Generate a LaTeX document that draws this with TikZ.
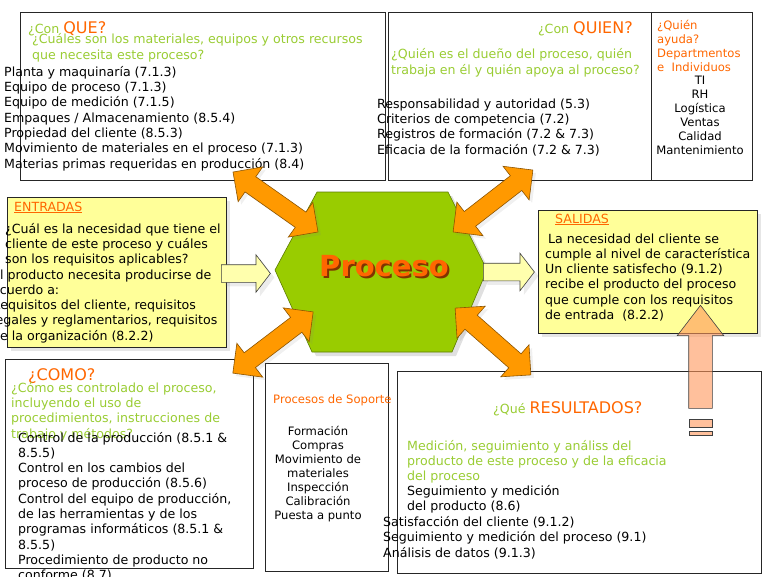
\documentclass[tikz,border=0pt]{standalone}
\usepackage{fontspec}
\setmainfont{DejaVu Sans}
\usetikzlibrary{shapes.arrows,shadows}

\definecolor{askgreen}{RGB}{153,204,51}
\definecolor{titleorange}{RGB}{255,102,0}
\definecolor{arrowfill}{RGB}{255,153,0}
\definecolor{hexgreen}{RGB}{153,204,0}
\definecolor{noteyellow}{RGB}{255,255,153}
\definecolor{peach}{RGB}{255,150,90}

\newcommand{\qtitle}[1]{{\fontsize{16}{18}\selectfont\color{titleorange}#1}}

\begin{document}
\begin{tikzpicture}[x=1pt, y=-1pt,
    box/.style={draw=black!85, line width=0.8pt, inner sep=0pt, anchor=north west},
    notebox/.style={box, fill=noteyellow, drop shadow={shadow xshift=4pt, shadow yshift=-4pt, opacity=0.2}},
    txt/.style={font=\fontsize{12.6}{15.3}\selectfont, align=left, anchor=base west, inner sep=0pt},
    ask/.style={txt, text=askgreen},
    small/.style={font=\fontsize{11.6}{14}\selectfont, align=center, anchor=base, inner sep=0pt},
    bigarrow/.style={double arrow, draw=arrowfill!55!black, fill=arrowfill, line width=0.6pt,
        inner xsep=0pt, inner ysep=9pt, double arrow head extend=12pt, double arrow tip angle=90,
        drop shadow={shadow xshift=3pt, shadow yshift=-3pt, opacity=0.12}},
    inarrow/.style={single arrow, draw=black!75, fill=noteyellow!80, line width=0.6pt,
        inner xsep=0pt, inner ysep=8.5pt, single arrow head extend=10pt, single arrow tip angle=105,
        drop shadow={shadow xshift=4pt, shadow yshift=-4pt, opacity=0.15}},
]
\useasboundingbox (0,0) rectangle (768,576);
\clip (0,0) rectangle (768,576);

% con que (multi-line texts sit on their last line)
\node[box, minimum width=365pt, minimum height=168pt] (queBox) at (20,12) {};
\node[txt, text=askgreen] (queTitle) at (28,33) {¿Con \qtitle{QUE?}};
\node[ask] (queAsk) at (32,59) {¿Cuáles son los materiales, equipos y otros recursos\\que necesita este proceso?};
\node[txt] (queList) at (4,168) {Planta y maquinaría (7.1.3)\\Equipo de proceso (7.1.3)\\Equipo de medición (7.1.5)\\Empaques / Almacenamiento (8.5.4)\\Propiedad del cliente (8.5.3)\\Movimiento de materiales en el proceso (7.1.3)\\Materias primas requeridas en producción (8.4)};

% con quien
\node[box, minimum width=263pt, minimum height=168pt] (quienBox) at (388,12) {};
\node[box, minimum width=101pt, minimum height=168pt] (ayudaBox) at (651,12) {};
\node[txt, anchor=base east, text=askgreen] (quienTitle) at (633,33) {¿Con \qtitle{QUIEN?}};
\node[ask] (quienAsk) at (391,74) {¿Quién es el dueño del proceso, quién\\trabaja en él y quién apoya al proceso?};
\node[txt] (quienList) at (377,154) {Responsabilidad y autoridad (5.3)\\Criterios de competencia (7.2)\\Registros de formación (7.2 \& 7.3)\\Eficacia de la formación (7.2 \& 7.3)};
\node[small, anchor=base west, align=left, text=titleorange] (ayudaAsk) at (657,71) {¿Quién\\ayuda?\\Departmentos\\e\ \ Individuos};
\node[small] (ayudaList) at (700,154) {TI\\RH\\Logística\\Ventas\\Calidad\\Mantenimiento};

% entradas
\node[notebox, minimum width=219pt, minimum height=150pt] (inBox) at (7,197) {};
\node[txt, text=titleorange] (inTitle) at (14,211) {\underline{ENTRADAS}};
\node[txt] (inAsk) at (5,263.6) {¿Cuál es la necesidad que tiene el\\cliente de este proceso y cuáles\\son los requisitos aplicables?};
\node[txt] (inNeed) at (-8,340.2) {El producto necesita producirse de\\acuerdo a:\\Requisitos del cliente, requisitos\\legales y reglamentarios, requisitos\\de la organización (8.2.2)};

% salidas
\node[notebox, minimum width=219pt, minimum height=123pt] (outBox) at (538,210) {};
\node[txt, text=titleorange] (outTitle) at (555,223) {\underline{SALIDAS}};
\node[txt] (outText) at (545,319.5) {\hspace{3pt}La necesidad del cliente se\\cumple al nivel de característica\\Un cliente satisfecho (9.1.2)\\recibe el producto del proceso\\que cumple con los requisitos\\de entrada\ \ (8.2.2)};

% como
\node[box, minimum width=248pt, minimum height=209pt] (comoBox) at (5,359) {};
\node[txt] (comoTitle) at (28,380) {\qtitle{¿COMO?}};
\node[ask] (comoAsk) at (11,438) {¿Cómo es controlado el proceso,\\incluyendo el uso de\\procedimientos, instrucciones de\\trabajo y métodos?};
\node[txt] (comoList) at (18,579.7) {Control de la producción (8.5.1 \&\\8.5.5)\\Control en los cambios del\\proceso de producción (8.5.6)\\Control del equipo de producción,\\de las herramientas y de los\\programas informáticos (8.5.1 \&\\8.5.5)\\Procedimiento de producto no\\conforme (8.7)};

% soporte
\node[box, minimum width=123pt, minimum height=208pt] (soporteBox) at (265,363) {};
\node[small, anchor=base west, text=titleorange] (soporteTitle) at (273,403) {Procesos de Soporte};
\node[small] (soporteList) at (318,519.5) {Formación\\Compras\\Movimiento de\\materiales\\Inspección\\Calibración\\Puesta a punto};

% resultados
\node[box, minimum width=364pt, minimum height=202pt] (resBox) at (397,371) {};
\node[txt, text=askgreen] (resTitle) at (493,413) {¿Qué \qtitle{RESULTADOS?}};
\node[ask] (resAsk) at (407,480.6) {Medición, seguimiento y análiss del\\producto de este proceso y de la eficacia\\del proceso};
\node[txt] (resList) at (407,510.3) {Seguimiento y medición\\del producto (8.6)};
\node[txt] (resMore) at (383,557) {Satisfacción del cliente (9.1.2)\\Seguimiento y medición del proceso (9.1)\\Análisis de datos (9.1.3)};

% proceso
\fill[black!12] (279,274) -- (321,196) -- (452,196) -- (491,274) -- (456,356) -- (316,356) -- cycle;
\draw[fill=hexgreen, draw=hexgreen!60!black, line width=0.6pt] (275,270) -- (317,192) -- (448,192) -- (487,270) -- (452,352) -- (312,352) -- cycle;
\node[font=\bfseries\fontsize{29}{32}\selectfont, text=titleorange!50!black] (procShadow) at (386,268) {Proceso};
\node[font=\bfseries\fontsize{29}{32}\selectfont, text=titleorange] (proc) at (384,266) {Proceso};

% flechas
\node[inarrow, minimum height=49pt] (inArrow) at (242.5,273.5) {};
\node[inarrow, minimum height=51pt] (outArrow) at (505.5,272) {};
\node[bigarrow, minimum height=104pt, rotate=-35.2] (arQue) at (275.5,202) {};
\node[bigarrow, minimum height=101pt, rotate=37.8] (arQuien) at (493,201) {};
\node[bigarrow, minimum height=101pt, rotate=37.3] (arComo) at (273,342.5) {};
\node[bigarrow, minimum height=101pt, rotate=-41.4] (arRes) at (493,341.5) {};

% retroalimentacion
\node[single arrow, draw=black!75, fill=peach, fill opacity=0.6, line width=0.6pt, inner xsep=0pt, inner ysep=11.5pt,
    single arrow head extend=11.5pt, single arrow tip angle=75, minimum height=103pt,
    rotate=90] (backArrow) at (700.5,364.5) {};
\draw[draw=black!75, fill=peach, fill opacity=0.6, line width=0.6pt] (689,419) rectangle (712,427);
\draw[draw=black!75, fill=peach, fill opacity=0.6, line width=0.6pt] (689,431) rectangle (712,435);
\end{tikzpicture}
\end{document}
